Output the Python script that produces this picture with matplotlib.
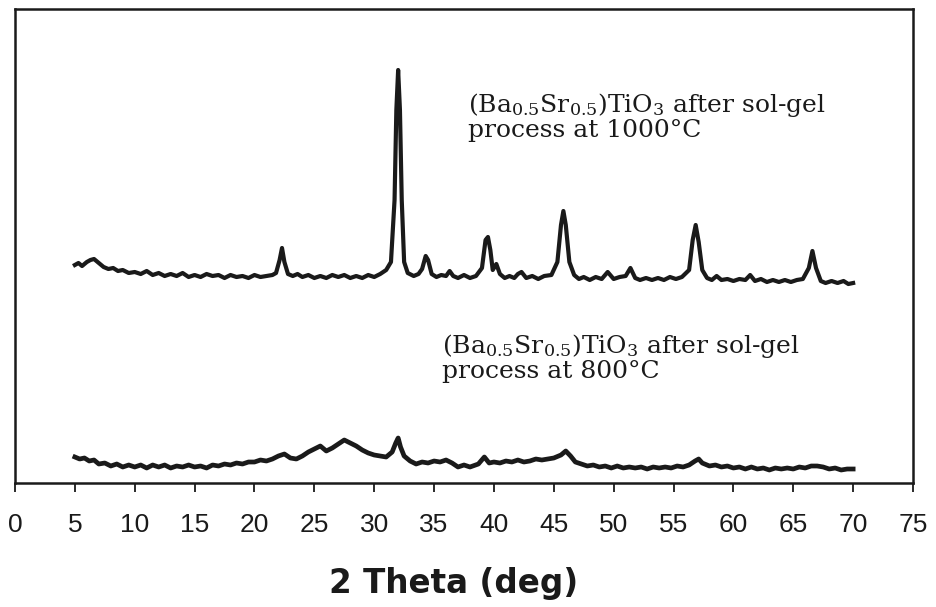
import matplotlib
matplotlib.use("Agg")
import matplotlib.pyplot as plt

# ---- data (intensity in arbitrary units) ----
theta_1000 = [5.0, 5.3, 5.6, 6.0, 6.3, 6.6, 7.0, 7.4, 7.8, 8.2, 8.6, 9.0, 9.5, 10.0,
              10.5, 11.0, 11.5, 12.0, 12.5, 13.0, 13.5, 14.0, 14.5, 15.0, 15.5, 16.0,
              16.5, 17.0, 17.5, 18.0, 18.5, 19.0, 19.5, 20.0, 20.5, 21.0, 21.5, 21.8,
              22.1, 22.3, 22.5, 22.8, 23.2, 23.6, 24.0, 24.5, 25.0, 25.5, 26.0, 26.5,
              27.0, 27.5, 28.0, 28.5, 29.0, 29.5, 30.0, 30.5, 31.0, 31.4, 31.7, 31.85,
              32.0, 32.15, 32.3, 32.5, 32.8, 33.3, 33.7, 34.0, 34.3, 34.5, 34.8, 35.2,
              35.6, 36.0, 36.3, 36.6, 37.0, 37.5, 38.0, 38.5, 39.0, 39.3, 39.5, 39.7,
              39.9, 40.2, 40.5, 40.9, 41.3, 41.7, 42.0, 42.3, 42.7, 43.2, 43.7, 44.2,
              44.8, 45.3, 45.6, 45.8, 46.0, 46.3, 46.7, 47.1, 47.5, 48.0, 48.5, 49.0,
              49.5, 50.0, 50.5, 51.0, 51.4, 51.8, 52.2, 52.7, 53.2, 53.7, 54.2, 54.7,
              55.2, 55.7, 56.3, 56.6, 56.85, 57.1, 57.4, 57.8, 58.2, 58.6, 59.0, 59.5,
              60.0, 60.5, 61.0, 61.4, 61.8, 62.3, 62.8, 63.3, 63.8, 64.3, 64.8, 65.3,
              65.8, 66.3, 66.6, 66.9, 67.3, 67.7, 68.2, 68.7, 69.2, 69.6, 70.0]
int_1000 = [218, 220, 217, 221, 223, 224, 220, 216, 214, 215, 212, 213, 210, 211,
            209, 212, 208, 210, 207, 209, 207, 210, 206, 208, 206, 209, 207,
            208, 205, 208, 206, 207, 205, 208, 206, 207, 208, 210,
            223, 235, 221, 209, 207, 209, 206, 208, 205, 207, 205, 208,
            206, 208, 205, 207, 205, 208, 206, 209, 213, 221, 283, 373,
            413, 373, 283, 221, 210, 207, 209, 214, 227, 223, 209, 206,
            208, 207, 212, 207, 205, 208, 205, 207, 215, 243, 246, 233,
            213, 219, 209, 205, 207, 205, 209, 211, 205, 207, 204, 207,
            208, 221, 258, 272, 258, 221, 208, 204, 206, 203, 206, 204,
            211, 204, 206, 207, 215, 205, 203, 205, 203, 205, 203, 206,
            204, 206, 213, 243, 258, 241, 213, 205, 203, 207, 203, 204,
            202, 204, 203, 208, 202, 204, 201, 203, 201, 203, 201, 203,
            204, 215, 232, 215, 202, 200, 202, 200, 202, 199, 200]

theta_800 = [5.0, 5.4, 5.8, 6.2, 6.6, 7.0, 7.5, 8.0, 8.5, 9.0, 9.5, 10.0, 10.5, 11.0,
             11.5, 12.0, 12.5, 13.0, 13.5, 14.0, 14.5, 15.0, 15.5, 16.0, 16.5, 17.0,
             17.5, 18.0, 18.5, 19.0, 19.5, 20.0, 20.5, 21.0, 21.5, 22.0, 22.5, 23.0,
             23.5, 24.0, 24.5, 25.0, 25.5, 26.0, 26.5, 27.0, 27.5, 28.0, 28.5, 29.0,
             29.5, 30.0, 30.5, 31.0, 31.5, 31.8, 32.0, 32.2, 32.5, 33.0, 33.5, 34.0,
             34.5, 35.0, 35.5, 36.0, 36.5, 37.0, 37.5, 38.0, 38.7, 39.2, 39.6, 40.0,
             40.5, 41.0, 41.5, 42.0, 42.5, 43.0, 43.5, 44.0, 44.5, 45.0, 45.6, 46.0,
             46.4, 46.8, 47.3, 47.8, 48.3, 48.8, 49.3, 49.8, 50.3, 50.8, 51.3, 51.8,
             52.3, 52.8, 53.3, 53.8, 54.3, 54.8, 55.3, 55.8, 56.3, 56.8, 57.1, 57.4,
             58.0, 58.5, 59.0, 59.5, 60.0, 60.5, 61.0, 61.5, 62.0, 62.5, 63.0, 63.5,
             64.0, 64.5, 65.0, 65.5, 66.0, 66.5, 67.0, 67.5, 68.0, 68.5, 69.0, 69.5,
             70.0]
int_800 = [26, 24, 25, 22, 23, 19, 20, 17, 19, 16, 18, 16, 18, 15,
           18, 16, 18, 15, 17, 16, 18, 16, 17, 15, 18, 17,
           19, 18, 20, 19, 21, 21, 23, 22, 24, 27, 29, 25,
           24, 27, 31, 34, 37, 32, 35, 39, 43, 40, 37, 33,
           30, 28, 27, 26, 31, 40, 45, 36, 27, 22, 19, 21,
           20, 22, 21, 23, 20, 16, 18, 16, 19, 26, 20, 21,
           20, 22, 21, 23, 21, 22, 24, 23, 24, 25, 28, 32,
           27, 21, 19, 17, 18, 16, 17, 15, 17, 15, 16, 15,
           16, 14, 16, 15, 16, 15, 17, 16, 18, 22, 24, 20,
           17, 18, 16, 17, 15, 16, 14, 16, 14, 15, 13, 15,
           14, 15, 14, 16, 15, 17, 17, 16, 14, 15, 13, 14,
           14]

xticks = list(range(0, 80, 5))

label_1000 = [r"(Ba$_{0.5}$Sr$_{0.5}$)TiO$_3$ after sol-gel", "process at 1000°C"]
label_800 = [r"(Ba$_{0.5}$Sr$_{0.5}$)TiO$_3$ after sol-gel", "process at 800°C"]

ink = "#1a1a1a"
serif = "DejaVu Serif"
plt.rcParams["mathtext.fontset"] = "custom"
plt.rcParams["mathtext.rm"] = serif
plt.rcParams["mathtext.it"] = serif + ":italic"
plt.rcParams["mathtext.bf"] = serif + ":bold"

fig = plt.figure(figsize=(9.36, 6.07), dpi=100)
ax = fig.add_axes([15 / 936, 1 - 483 / 607, 898 / 936, 474 / 607])

ax.plot(theta_1000, int_1000, color=ink, lw=3.0, solid_joinstyle="round")
ax.plot(theta_800, int_800, color=ink, lw=3.4, solid_joinstyle="round")

ax.set_xlim(0, 75)
ax.set_ylim(0, 474)
ax.set_yticks([])
ax.set_xticks(xticks)
ax.set_xticklabels([str(t) for t in xticks], fontfamily="Liberation Sans", fontsize=19)
ax.tick_params(axis="x", direction="out", length=6.5, width=1.3, pad=15, colors=ink)
for s in ax.spines.values():
    s.set_linewidth(1.8)
    s.set_color(ink)

fig.text(454 / 936, 1 - 593 / 607, "2 Theta (deg)", fontfamily="DejaVu Sans",
         fontweight="bold", fontsize=23.5, ha="center", va="baseline", color=ink)

ax.text(37.83, 371, label_1000[0], fontfamily=serif, fontsize=18, va="baseline", color=ink)
ax.text(37.83, 346, label_1000[1], fontfamily=serif, fontsize=18, va="baseline", color=ink)
ax.text(35.66, 130, label_800[0], fontfamily=serif, fontsize=18, va="baseline", color=ink)
ax.text(35.66, 105, label_800[1], fontfamily=serif, fontsize=18, va="baseline", color=ink)

fig.savefig("out.png", dpi=100)
